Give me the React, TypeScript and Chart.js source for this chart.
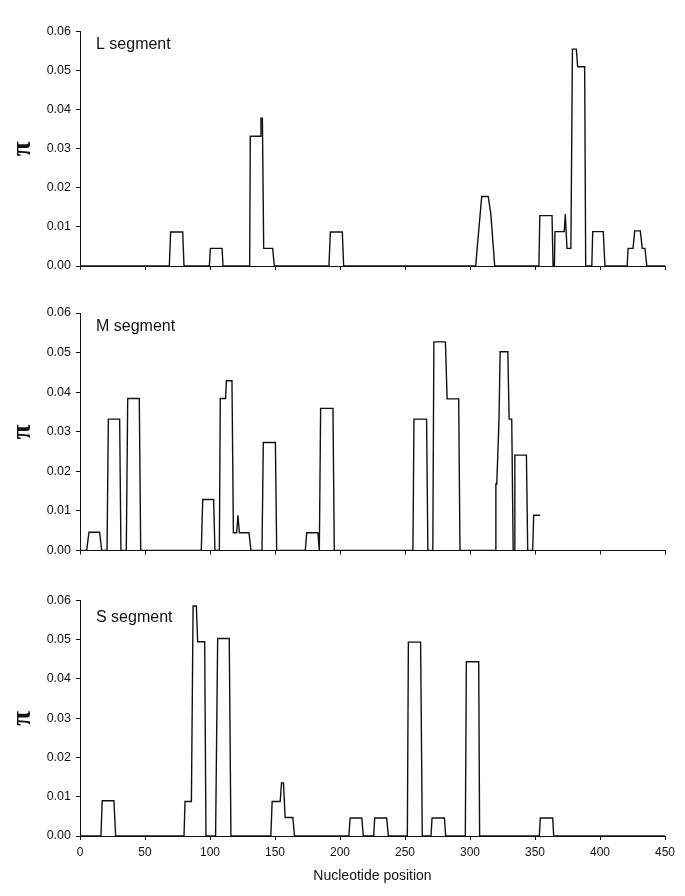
import React, { useEffect, useRef } from 'react';
import { Chart, registerables } from 'chart.js';
Chart.register(...registerables);

// ---------- data (nucleotide position, nucleotide diversity π) ----------
const lPos = [0, 68.7, 69.7, 79, 80, 99.5, 100.3, 109.3, 110, 130.5, 131, 138.7, 139.2, 140.3, 141.3, 148.2, 149.5,
  191.5, 192.6, 201.8, 202.8, 304.4, 305.5, 309, 314, 316, 319,
  353, 353.7, 363.1, 363.9, 364.9, 365.4, 372.5, 373.3, 373.8, 374.6, 377.6, 378.8, 381.8, 382.8, 388.2, 389,
  393.7, 394.4, 402.5, 403.8, 420.9, 421.6, 425.4, 426.7, 431, 432.5, 434.6, 436, 450];
const lPi = [0, 0, 0.0087, 0.0087, 0, 0, 0.0045, 0.0045, 0, 0, 0.0332, 0.0332, 0.0378, 0.0378, 0.0045, 0.0045, 0,
  0, 0.0087, 0.0087, 0, 0, 0.0045, 0.0178, 0.0178, 0.0134, 0,
  0, 0.0129, 0.0129, 0, 0, 0.0088, 0.0088, 0.0133, 0.0133, 0.0045, 0.0045, 0.0555, 0.0555, 0.051, 0.051, 0,
  0, 0.0088, 0.0088, 0, 0, 0.0045, 0.0045, 0.009, 0.009, 0.0045, 0.0045, 0, 0];

const mPos = [0, 5.1, 6.9, 15.1, 16.7, 20.8, 21.8, 30.5, 31.5, 35.6, 36.7, 45.6, 46.7,
  93.3, 94.4, 102.8, 103.8, 107.2, 107.9, 112, 112.6, 116.9, 118, 120.5, 121.5, 122.6, 130, 131.5,
  140, 141, 150.3, 151.3, 173.3, 174.4, 183, 184.1, 184.4, 185.1, 194.6, 195.6,
  256.1, 256.9, 266.6, 267.6, 271.4, 272.2, 281.1, 282.4, 291.3, 292.3,
  319.4, 319.9, 320.6, 322.3, 323.2, 329.1, 330.1, 332.1, 333.2, 334.2, 334.5, 343.4, 344.4,
  348.2, 349, 354];
const mPi = [0, 0, 0.0046, 0.0046, 0, 0, 0.0332, 0.0332, 0, 0, 0.0384, 0.0384, 0,
  0, 0.0129, 0.0129, 0, 0, 0.0384, 0.0384, 0.0429, 0.0429, 0.0045, 0.0045, 0.0089, 0.0045, 0.0045, 0,
  0, 0.0273, 0.0273, 0, 0, 0.0045, 0.0045, 0, 0, 0.0359, 0.0359, 0,
  0, 0.0332, 0.0332, 0, 0, 0.0527, 0.0527, 0.0383, 0.0383, 0,
  0, 0.0168, 0.0168, 0.033, 0.0502, 0.0502, 0.0332, 0.0332, 0, 0, 0.0241, 0.0241, 0,
  0, 0.0089, 0.0089];

const sPos = [0, 16.1, 17.1, 26.1, 27.4, 80, 80.8, 85.7, 87, 89.5, 90.5, 95.9, 96.9, 104.3, 105.9, 114.8, 116.1,
  146.8, 147.8, 154, 155, 156.5, 157.8, 163.7, 165, 206.8, 207.8, 216.8, 217.9, 225.9, 226.7, 235.9, 237.2,
  251.8, 252.6, 262, 263.3, 270, 270.8, 280.3, 281.3, 296.4, 297.2, 306.7, 307.4, 353.3, 354.1, 363.6, 364.4, 450];
const sPi = [0, 0, 0.009, 0.009, 0, 0, 0.0088, 0.0088, 0.0586, 0.0586, 0.0495, 0.0495, 0, 0, 0.0503, 0.0503, 0,
  0, 0.0088, 0.0088, 0.0135, 0.0135, 0.0047, 0.0047, 0, 0, 0.0046, 0.0046, 0, 0, 0.0046, 0.0046, 0,
  0, 0.0494, 0.0494, 0, 0, 0.0046, 0.0046, 0, 0, 0.0444, 0.0444, 0, 0, 0.0046, 0.0046, 0, 0];

const segmentLabels = ['L segment', 'M segment', 'S segment'];
const xTitle = 'Nucleotide position';
const yTitle = 'π';
const xMin = 0, xMax = 450, xStep = 50;
const yMin = 0, yMax = 0.06, yStep = 0.01;

const SANS = 'Arial, "Liberation Sans", sans-serif';
const INK = '#111';

type PanelProps = {
  xs: number[]; ys: number[]; label: string;
  top: number; height: number; padTop: number; xAxisH: number;
  bottomAxis: boolean; labelDy: number;
};

function Panel(p: PanelProps) {
  const ref = useRef<HTMLCanvasElement>(null);
  useEffect(() => {
    const canvas = ref.current!;
    const data = p.xs.map((x, i) => ({ x, y: p.ys[i] }));
    const labelPlugin = {
      id: 'segLabel',
      afterDraw(chart: any) {
        const { ctx, chartArea } = chart;
        ctx.save();
        ctx.font = '16px ' + SANS;
        ctx.fillStyle = INK;
        ctx.textBaseline = 'alphabetic';
        ctx.textAlign = 'left';
        ctx.fillText(p.label, chartArea.left + 16, chartArea.top + p.labelDy);
        ctx.restore();
      },
    };
    const chart = new Chart(canvas, {
      type: 'line',
      data: {
        datasets: [{
          data,
          borderColor: INK,
          borderWidth: 1.4,
          pointRadius: 0,
          tension: 0,
          fill: false,
        }],
      },
      options: {
        animation: false,
        responsive: false,
        devicePixelRatio: 1,
        layout: { padding: { top: p.padTop, right: 20, bottom: 0, left: 0 } },
        plugins: { legend: { display: false }, tooltip: { enabled: false } },
        scales: {
          x: {
            type: 'linear',
            min: xMin, max: xMax,
            afterFit: (s: any) => { s.height = p.xAxisH; },
            ticks: {
              display: p.bottomAxis, stepSize: xStep, color: INK, padding: 5,
              font: { family: SANS, size: 12 }, maxRotation: 0,
            },
            grid: { display: true, drawOnChartArea: false, drawTicks: true, tickLength: 4, color: INK, lineWidth: 1 },
            border: { display: true, color: INK, width: 1 },
            title: {
              display: p.bottomAxis, text: xTitle, color: INK,
              font: { family: SANS, size: 14 }, padding: { top: 0, bottom: 11 },
            },
          },
          y: {
            type: 'linear',
            min: yMin, max: yMax,
            afterFit: (s: any) => { s.width = 80; },
            ticks: {
              stepSize: yStep, color: INK, padding: 5,
              font: { family: SANS, size: 12.5 },
              callback: (v: any) => Number(v).toFixed(2),
            },
            grid: { display: true, drawOnChartArea: false, drawTicks: true, tickLength: 4, color: INK, lineWidth: 1 },
            border: { display: true, color: INK, width: 1 },
            title: {
              display: true, text: yTitle, color: INK,
              font: { family: '"Liberation Serif", "DejaVu Serif", serif', size: 27, weight: 'bold' },
              padding: { top: 7, bottom: 0 },
            },
          },
        },
      },
      plugins: [labelPlugin],
    } as any);
    return () => chart.destroy();
  }, []);
  return (
    <div style={{ position: 'absolute', left: 0, top: p.top, width: 685, height: p.height }}>
      <canvas ref={ref} width={685} height={p.height} style={{ display: 'block' }} />
    </div>
  );
}

export default function App() {
  return (
    <div style={{ position: 'absolute', left: 0, top: 0, width: 685, height: 896, background: '#fff', overflow: 'hidden' }}>
      <Panel xs={lPos} ys={lPi} label={segmentLabels[0]} top={0} height={290} padTop={31.5} xAxisH={24} bottomAxis={false} labelDy={17.5} />
      <Panel xs={mPos} ys={mPi} label={segmentLabels[1]} top={290} height={290} padTop={23} xAxisH={29.5} bottomAxis={false} labelDy={18} />
      <Panel xs={sPos} ys={sPi} label={segmentLabels[2]} top={580} height={316} padTop={20.5} xAxisH={60} bottomAxis={true} labelDy={21} />
    </div>
  );
}
